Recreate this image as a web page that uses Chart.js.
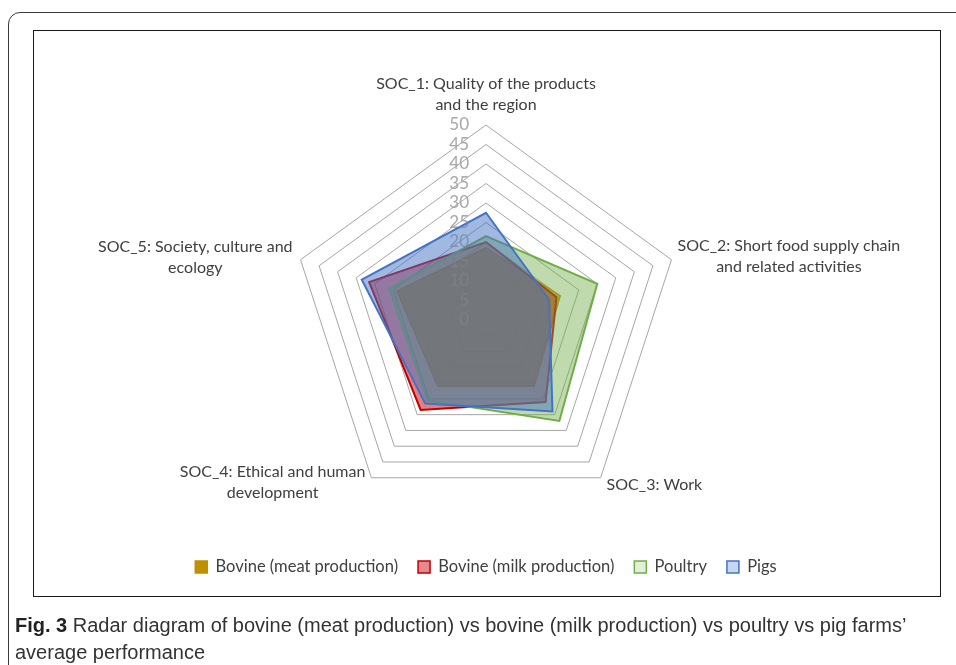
<!DOCTYPE html>
<html>
<head>
<meta charset="utf-8">
<script src="https://cdn.jsdelivr.net/npm/chart.js@4.4.0/dist/chart.umd.min.js"></script>
<style>
  html, body { margin: 0; padding: 0; background: #fff; width: 956px; height: 665px; overflow: hidden; }
  .frame { position: absolute; left: 8px; top: 12px; width: 1000px; height: 720px;
           border: 1.5px solid #3a3a3a; border-radius: 12px; }
  .plot { position: absolute; left: 33px; top: 30px; width: 906px; height: 565px;
          border: 1.5px solid #1a1a1a; }
  #chart { position: absolute; left: 0; top: 0; }
  .caption { position: absolute; left: 15px; top: 612px; width: 930px;
             font-family: 'Liberation Sans Narrow', 'Liberation Sans', sans-serif;
             font-size: 20px; line-height: 27px; color: #333; }
  .caption b { color: #222; }
</style>
</head>
<body>
<div class="frame"></div>
<div class="plot"></div>
<canvas id="chart" width="956" height="665"></canvas>
<div class="caption"><b>Fig. 3</b> Radar diagram of bovine (meat production) vs bovine (milk production) vs poultry vs pig farms’<br>average performance</div>

<script>
// axis categories (multi-line labels)
const categories = [
    ['SOC_1: Quality of the products', 'and the region'],
    ['SOC_2: Short food supply chain', 'and related activities'],
    ['SOC_3: Work'],
    ['SOC_4: Ethical and human', 'development'],
    ['SOC_5: Society, culture and', 'ecology']
];

// average scores per farm type
const bovineMeat = [18.5, 20, 21, 21, 24];
const bovineMilk = [20, 19, 26, 28.5, 31.5];
const poultry    = [21.5, 30, 32, 25.5, 26];
const pigs       = [27.5, 17, 29, 26.5, 33.5];

const seriesNames = ['Bovine (meat production)', 'Bovine (milk production)', 'Poultry', 'Pigs'];

// radial axis: 0..50 every 5
const tickMin = 0;
const tickMax = 50;
const tickStep = 5;

const lineColors  = ['#bf9000', '#c00000', '#70ad47', '#4472c4'];
const fillColors  = ['rgba(191,144,0,0.7)', 'rgba(200,0,0,0.5)', 'rgba(112,173,71,0.45)', 'rgba(68,114,196,0.5)'];
const legendFills = ['#bf9000', '#e58a8a', '#e2efd9', '#c9d6ef'];

const labelFont = '16px Lato';

function drawTicks(chart, color) {
    const r = chart.scales.r;
    const ctx = chart.ctx;
    ctx.save();
    ctx.font = '17px Lato';
    ctx.fillStyle = color;
    ctx.textAlign = 'right';
    ctx.textBaseline = 'middle';
    r.ticks.forEach(t => {
        const y = r.yCenter - r.getDistanceFromCenterForValue(t.value);
        ctx.fillText(String(t.value), r.xCenter - 17, y);
    });
    ctx.restore();
}

// tick numbers left of the vertical axis: under the fills, plus a faint pass on top
const tickLabels = {
    id: 'tickLabels',
    beforeDatasetsDraw(chart) { drawTicks(chart, '#a6a6a6'); },
    afterDatasetsDraw(chart) { drawTicks(chart, 'rgba(185,185,185,0.18)'); }
};

// axis titles placed beside each outer vertex, lines centred within their block
const axisLabels = {
    id: 'axisLabels',
    afterDraw(chart) {
        const r = chart.scales.r;
        const ctx = chart.ctx;
        const lh = 21;
        ctx.save();
        ctx.font = labelFont;
        ctx.fillStyle = '#404040';
        ctx.textBaseline = 'middle';
        ctx.textAlign = 'center';
        categories.forEach((lines, i) => {
            const p = r.getPointPosition(i, r.drawingArea);
            const w = Math.max(...lines.map(s => ctx.measureText(s).width));
            const h = lines.length * lh;
            let cx, top;
            const dx = p.x - r.xCenter;
            const below = p.y > r.yCenter;
            if (Math.abs(dx) < 2) {
                cx = p.x;
                top = p.y - 10 - h;
            } else if (dx > 0) {
                cx = p.x + 6 + w / 2;
                top = p.y - h / 2 + (below ? 7 : -3);
            } else {
                cx = p.x - (below ? 6 : 8) - w / 2;
                top = p.y - h / 2 + (below ? 5 : -2);
            }
            lines.forEach((s, k) => ctx.fillText(s, cx, top + lh * k + lh / 2));
        });
        ctx.restore();
    }
};

const seriesData = [bovineMeat, bovineMilk, poultry, pigs];

new Chart(document.getElementById('chart'), {
    type: 'radar',
    data: {
        labels: categories,
        datasets: seriesData.map((d, i) => ({
            label: seriesNames[i],
            data: d,
            borderColor: lineColors[i],
            backgroundColor: fillColors[i],
            borderWidth: i === 0 ? 1.5 : 2,
            pointRadius: 0,
            fill: true,
            order: seriesData.length - i   // pigs drawn on top
        }))
    },
    options: {
        responsive: false,
        animation: false,
        layout: { padding: { top: 101.25, bottom: 79.75, left: 16, right: 0 } },
        scales: {
            r: {
                min: tickMin,
                max: tickMax,
                ticks: { stepSize: tickStep, display: false },
                grid: { color: '#a6a6a6', lineWidth: 1 },
                angleLines: { display: false },
                pointLabels: { display: false },
                afterFit(scale) { scale.drawingArea = 195; }
            }
        },
        plugins: {
            tooltip: { enabled: false },
            legend: {
                position: 'bottom',
                labels: {
                    font: { family: 'Lato', size: 16.5 },
                    color: '#404040',
                    boxWidth: 12,
                    boxHeight: 12,
                    padding: 20,
                    generateLabels(chart) {
                        return chart.data.datasets.map((ds, i) => ({
                            text: ds.label,
                            fillStyle: legendFills[i],
                            strokeStyle: lineColors[i],
                            lineWidth: 1.5,
                            fontColor: '#404040',
                            hidden: !chart.isDatasetVisible(i),
                            datasetIndex: i
                        }));
                    }
                }
            }
        }
    },
    plugins: [tickLabels, axisLabels]
});
</script>
</body>
</html>
